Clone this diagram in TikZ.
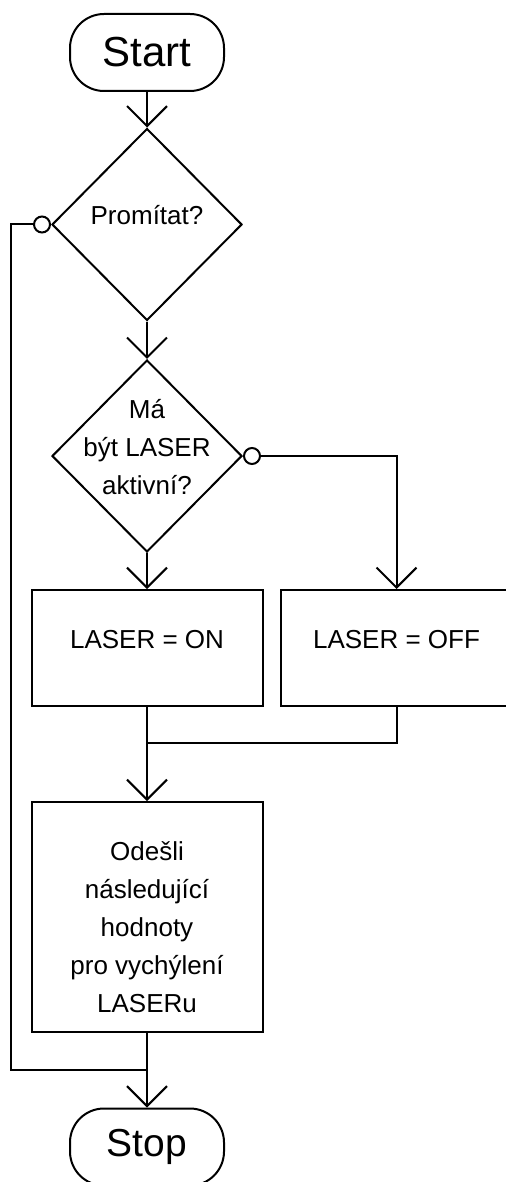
\documentclass[tikz,border=0pt]{standalone}
\usepackage{fontspec}
\setmainfont{Liberation Sans}
\usetikzlibrary{shapes,arrows.meta,positioning,calc}

\begin{document}
\begin{tikzpicture}[
    x=0.5pt, y=-0.5pt,
    line width=1pt,
    terminal/.style={rectangle, draw, rounded corners=17pt, minimum width=77pt, minimum height=38.5pt, inner sep=0pt},
    decision/.style={diamond, draw, minimum width=95pt, minimum height=96pt, inner sep=0pt, align=center, font=\fontsize{13}{19}\selectfont},
    process/.style={rectangle, draw, minimum width=115.5pt, inner sep=0pt, align=center, font=\fontsize{13}{19}\selectfont},
    innertext/.style={align=center, inner sep=0pt, font=\fontsize{13}{19}\selectfont},
    midline/.style={text height=6pt, text depth=6pt},
    arrow/.style={-{Straight Barb[length=10pt, width=20pt]}},
    noarrow/.style={{Circle[open, length=9pt, width=9pt]}-},
    branch/.style={{Circle[open, length=9pt, width=9pt]}-{Straight Barb[length=10pt, width=20pt]}}
]
\useasboundingbox (0,0) rectangle (506,1182);

% Start / Stop
\node[terminal, font=\fontsize{21}{25}\selectfont] (start) at (147,52.5) {Start};
\node[terminal, font=\fontsize{19.5}{24}\selectfont] (stop) at (147,1147) {Stop};

% Decisions
\node[decision, midline] (d1) at (147,224.5) {Promítat?};
\node[decision, label={[innertext, name=d2text, yshift=4.5pt]center:Má\\být LASER\\aktivní?}] (d2) at (147,456) {};

% Actions
\node[process, midline, minimum height=58pt] (on) at (147,648) {LASER = ON};
\node[process, midline, minimum height=58pt] (off) at (396.5,648) {LASER = OFF};
\node[process, minimum height=115pt, label={[innertext, name=sendtext, yshift=-5pt]center:Odešli\\následující\\hodnoty\\pro vychýlení\\LASERu}] (send) at (147,917) {};

% Arrows - main flow
\draw[arrow] (start) -- (d1);
\draw[arrow] (d1) -- (d2);
\draw[arrow] (d2) -- (on);
\draw[branch] (d2.east) -| (off.north);
\coordinate (merge) at (147,743);
\draw (off.south) |- (merge);
\draw[arrow] (on) -- (send);
\draw[arrow] (send) -- (stop);

% Loop back
\coordinate (join) at (147,1070);
\draw[noarrow] (d1.west) -- ++(-40,0) |- (join);

\end{tikzpicture}
\end{document}
